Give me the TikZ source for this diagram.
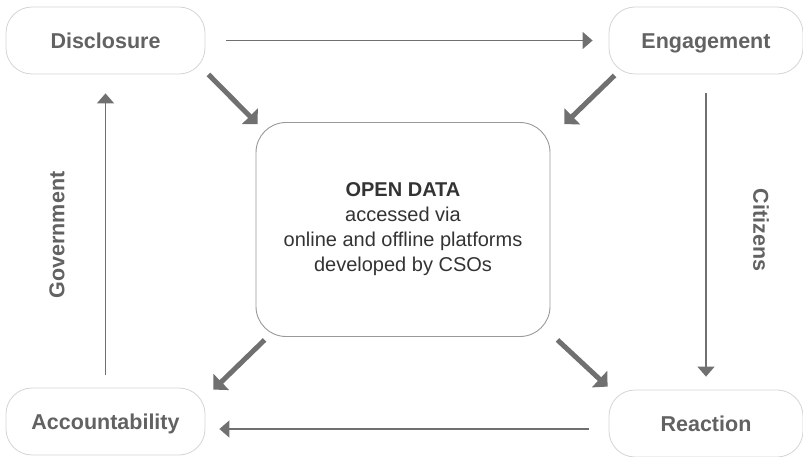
\documentclass[tikz,border=0pt]{standalone}
\usepackage{fontspec}
\setmainfont{Liberation Sans}
\usetikzlibrary{arrows.meta,calc}
\definecolor{labelgray}{HTML}{626262}
\definecolor{textdark}{HTML}{333333}
\definecolor{boxline}{HTML}{D4D4D4}
\definecolor{coreline}{HTML}{999999}
\definecolor{arrowgray}{HTML}{707070}
\tikzset{
  stage/.style={draw=boxline, line width=0.8pt, rounded corners=26pt,
    minimum width=199pt, minimum height=67pt, inner sep=0pt,
    text height=17pt, text depth=1.6pt,
    text=labelgray, font=\fontsize{21.5}{25}\selectfont\bfseries},
  core/.style={draw=coreline, line width=0.9pt, rounded corners=30pt,
    minimum width=294pt, minimum height=214pt, inner sep=0pt, align=center,
    text=textdark, font=\fontsize{20}{25}\selectfont},
  flow/.style={draw=arrowgray, line width=1.4pt,
    -{Triangle[length=10pt,width=17pt]}},
  feed/.style={draw=arrowgray, line width=5pt,
    -{Triangle[length=11pt,width=22pt]}},
  actor/.style={text=labelgray, font=\fontsize{21.5}{24}\selectfont\bfseries}
}
\begin{document}
\begin{tikzpicture}[x=1pt,y=-1pt]
  \useasboundingbox (0,0) rectangle (803,457);
  % the four stages of the cycle
  \node[stage] (disc) at (105.5,40.5) {Disclosure};
  \node[stage, minimum width=194pt] (eng) at (706,40.5) {Engagement};
  \node[stage] (acc) at (105.5,421.5) {Accountability};
  \node[stage, minimum width=194pt] (rea) at (706,423.5) {Reaction};
  % central hub
  \node[core] (cen) at (403,229.5)
    {{\bfseries OPEN DATA}\\accessed via\\online and offline platforms\\developed by CSOs};
  % outer cycle
  \draw[flow, shorten <=21pt, shorten >=16pt] (disc.east) -- (eng.west);
  \draw[flow, shorten <=19pt, shorten >=13pt] (eng.south) -- (eng.south |- rea.north);
  \draw[flow, shorten <=20pt, shorten >=14pt] (rea.west |- acc.east) ++(0,7.5) coordinate (rw)
        (rw) -- (acc.east |- rw);
  \draw[flow, shorten <=13pt, shorten >=19pt] (acc.north) -- (disc.south);
  % actors
  \node[actor, rotate=90] (gov) at (57,235) {Government};
  \node[actor, rotate=-90] (cit) at (761,230) {Citizens};
  % links to and from the hub
  \draw[feed] ([shift={(3,0)}]disc.south east) -- ([shift={(2,2)}]cen.north west);
  \draw[feed] ([shift={(6,1)}]eng.south west) -- ([shift={(14,2)}]cen.north east);
  \draw[feed] ([shift={(9,3)}]cen.south west) -- ([shift={(8,2)}]acc.north east);
  \draw[feed] ([shift={(7,3)}]cen.south east) -- ([shift={(-1,-3)}]rea.north west);
\end{tikzpicture}
\end{document}
